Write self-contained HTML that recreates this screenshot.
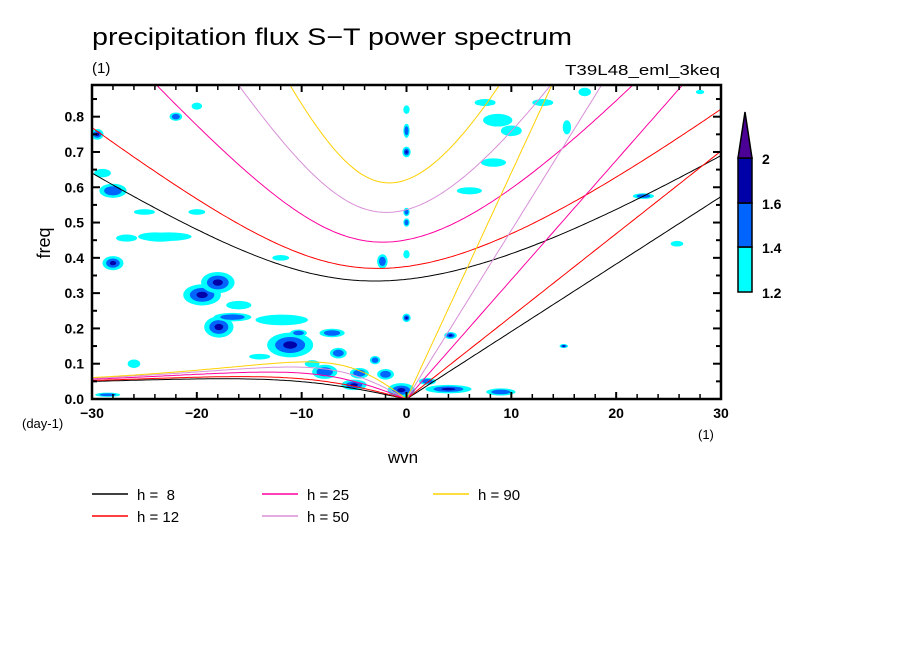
<!DOCTYPE html>
<html><head><meta charset="utf-8"><style>
html,body{margin:0;padding:0;background:#fff;}
svg{display:block;font-family:"Liberation Sans",sans-serif;}
.pre{white-space:pre;}
</style></head><body>
<svg id="chart" width="904" height="654" viewBox="0 0 904 654">
<rect width="904" height="654" fill="#fff"/>
<g id="blobs"></g>
<g id="curves"></g>
<g id="axes"></g>
<text x="92" y="45" font-size="24" textLength="480" lengthAdjust="spacingAndGlyphs">precipitation flux S−T power spectrum</text>
<text x="92" y="73" font-size="15">(1)</text>
<text x="720" y="75" font-size="15" text-anchor="end" textLength="155" lengthAdjust="spacingAndGlyphs">T39L48_eml_3keq</text>
<text x="50" y="243" font-size="18" transform="rotate(-90 50 243)" text-anchor="middle">freq</text>
<text x="403" y="463" font-size="17" text-anchor="middle">wvn</text>
<text x="22" y="428" font-size="13">(day-1)</text>
<text x="698" y="439" font-size="13">(1)</text>
<g id="legend"></g>
<g id="colorbar"></g>
</svg>
<script>
const NS="http://www.w3.org/2000/svg";
// data
const hValues=[8,12,25,50,90];
const hColors=["#000000","#ff0000","#ff00a0","#d890d8","#ffd000"];
const xTicks=[-30,-20,-10,0,10,20,30];
const yTicks=[0,0.1,0.2,0.3,0.4,0.5,0.6,0.7,0.8];
const yTickLabels=["0.0","0.1","0.2","0.3","0.4","0.5","0.6","0.7","0.8"];
const cbLevels=[1.2,1.4,1.6,2];
const cbColors=["#00ffff","#0064ff","#0000a8","#4b0096"];
// blobs: wavenumber, frequency, half-width (wvn), half-height (freq), level
const blobK=[-11.1,-19.5,-18,-17.9,-28,-0.5,-2,-7.8,-4.5,-6.5,-11.9,-16.6,-16,-7.1,-10.3,-24,-22.7,-2.3,0,4,-29.5,-28,-26.7,-23.5,-22,-20,-29,0,0,0,0,0,0,8.7,7.5,8.3,15.3,17,13,4.2,15,22.6,25.8,-28.5,-26,-14,-12,-20,-25,-3,-9,-5,9,2,28,10,6];
const blobF=[0.153,0.295,0.33,0.204,0.385,0.025,0.07,0.077,0.073,0.13,0.224,0.232,0.266,0.187,0.187,0.46,0.46,0.39,0.23,0.028,0.75,0.59,0.456,0.456,0.8,0.83,0.64,0.82,0.76,0.7,0.53,0.5,0.41,0.79,0.84,0.67,0.77,0.87,0.84,0.18,0.15,0.575,0.44,0.012,0.1,0.12,0.4,0.53,0.53,0.11,0.1,0.04,0.02,0.05,0.87,0.76,0.59];
const blobRK=[2.2,1.8,1.6,1.4,1.0,1.3,0.8,1.2,0.9,0.8,2.5,1.8,1.2,1.2,0.8,1.6,2.2,0.5,0.4,2.2,0.6,1.3,1.0,1.6,0.6,0.5,0.8,0.3,0.3,0.4,0.3,0.3,0.3,1.4,1.0,1.2,0.4,0.6,1.0,0.6,0.4,1.0,0.6,1.2,0.6,1.0,0.8,0.8,1.0,0.5,0.7,1.2,1.4,0.8,0.4,1.0,1.2];
const blobRF=[0.035,0.03,0.03,0.03,0.02,0.02,0.015,0.02,0.015,0.015,0.015,0.012,0.012,0.012,0.01,0.012,0.012,0.02,0.012,0.012,0.015,0.02,0.01,0.01,0.012,0.01,0.012,0.012,0.02,0.015,0.012,0.012,0.012,0.018,0.01,0.012,0.02,0.012,0.01,0.01,0.006,0.008,0.008,0.006,0.012,0.008,0.008,0.008,0.008,0.012,0.01,0.015,0.01,0.01,0.006,0.015,0.01];
const blobLvl=[3,3,3,3,3,3,2,2,2,2,1,2,1,2,2,1,1,2,3,3,3,2,1,1,2,1,1,1,2,3,2,2,1,1,1,1,1,1,1,3,3,2,1,2,1,1,1,1,1,2,1,3,2,2,1,1,1];

const X0=92,X1=721,Y0=399,YT=85,PPF=352.9;
const xs=k=>X0+(k+30)/60*(X1-X0);
const ys=f=>Y0-f*PPF;

const bg=document.getElementById('blobs');
const lvlCol=["#00ffff","#0064ff","#0000a8"];
for(let i=0;i<blobK.length;i++){
  for(let l=0;l<blobLvl[i];l++){
    const e=document.createElementNS(NS,'ellipse');
    const s=1-l*0.35;
    e.setAttribute('cx',xs(blobK[i]));e.setAttribute('cy',ys(blobF[i]));
    e.setAttribute('rx',blobRK[i]*10.48*s);e.setAttribute('ry',blobRF[i]*PPF*s);
    e.setAttribute('fill',lvlCol[l]);
    
    
    bg.appendChild(e);
  }
}

// dispersion curves
const beta=2.29e-11,a=6.371e6,g=9.81,toCpd=86400/(2*Math.PI);
function cubic(w,k,c){return w*w*w-(c*c*k*k+3*beta*c)*w-beta*c*c*k;}
function dcubic(w,k,c){return 3*w*w-(c*c*k*k+3*beta*c);}
function solve(w,k,c){for(let i=0;i<40;i++){w-=cubic(w,k,c)/dcubic(w,k,c);}return w;}
const cg=document.getElementById('curves');
const clip=document.createElementNS(NS,'clipPath');clip.setAttribute('id','pc');
const cr=document.createElementNS(NS,'rect');cr.setAttribute('x',X0);cr.setAttribute('y',YT);cr.setAttribute('width',X1-X0);cr.setAttribute('height',Y0-YT);
clip.appendChild(cr);cg.appendChild(clip);
cg.setAttribute('clip-path','url(#pc)');
function addPath(pts,col,name){
  const p=document.createElementNS(NS,'polyline');
  p.setAttribute('points',pts.map(q=>q[0].toFixed(1)+','+q[1].toFixed(1)).join(' '));
  p.setAttribute('fill','none');p.setAttribute('stroke',col);p.setAttribute('stroke-width','1');
  
  
  cg.appendChild(p);
}
hValues.forEach((h,j)=>{
  const c=Math.sqrt(g*h);const col=hColors[j];
  const ig=[],ro=[],kel=[];
  for(let s=-30;s<=30.001;s+=0.25){
    const k=s/a;
    const w0=Math.sqrt(c*c*k*k+3*beta*c);
    ig.push([xs(s),ys(solve(w0,k,c)*toCpd)]);
    if(s<=0){const wr=-beta*k/(k*k+3*beta/c);ro.push([xs(s),ys(s===0?0:solve(wr,k,c)*toCpd)]);}
    if(s>=0){kel.push([xs(s),ys(c*k*toCpd)]);}
  }
  addPath(ig,col,'ig-curve-h'+h);addPath(ro,col,'rossby-curve-h'+h);addPath(kel,col,'kelvin-line-h'+h);
});

// axes
const ag=document.getElementById('axes');
function el(tag,attrs,name,txt){const e=document.createElementNS(NS,tag);for(const k in attrs)e.setAttribute(k,attrs[k]);
  
  
  if(txt!==undefined)e.textContent=txt;ag.appendChild(e);return e;}
el('rect',{x:X0,y:YT,width:X1-X0,height:Y0-YT,fill:'none',stroke:'#000','stroke-width':2.5},'plot-frame');
for(let s=-30;s<=30;s+=2){const maj=s%10===0;const L=maj?7:5;
  el('line',{x1:xs(s),x2:xs(s),y1:Y0,y2:Y0-L,stroke:'#000','stroke-width':maj?2:1.5},'x-tick');
  el('line',{x1:xs(s),x2:xs(s),y1:YT,y2:YT+L,stroke:'#000','stroke-width':maj?2:1.5},'x-tick-top');}
for(let i=0;i<=17;i++){const f=i*0.05;const maj=i%2===0;const L=maj?8:5;
  el('line',{x1:X0,x2:X0+L,y1:ys(f),y2:ys(f),stroke:'#000','stroke-width':2},'y-tick');
  el('line',{x1:X1,x2:X1-L,y1:ys(f),y2:ys(f),stroke:'#000','stroke-width':2},'y-tick-right');}
xTicks.forEach(t=>el('text',{x:xs(t),y:Y0+19,'font-size':14,'font-weight':'bold','text-anchor':'middle'},'x-tick-label',(t<0?'−':'')+Math.abs(t)));
yTicks.forEach((t,i)=>el('text',{x:X0-8,y:ys(t)+5,'font-size':14,'font-weight':'bold','text-anchor':'end'},'y-tick-label',yTickLabels[i]));

// legend
const lg=document.getElementById('legend');
const legPos=[[92,137,494],[92,137,516],[262,307,494],[262,307,516],[433,478,494]];
hValues.forEach((h,j)=>{
  const p=legPos[j];
  const ln=document.createElementNS(NS,'line');
  ln.setAttribute('x1',p[0]);ln.setAttribute('x2',p[0]+36);ln.setAttribute('y1',p[2]);ln.setAttribute('y2',p[2]);
  ln.setAttribute('stroke',hColors[j]);ln.setAttribute('stroke-width',1.5);
  
  
  lg.appendChild(ln);
  const t=document.createElementNS(NS,'text');
  t.setAttribute('x',p[1]);t.setAttribute('y',p[2]+6);t.setAttribute('font-size',15);t.setAttribute('class','pre');
  t.textContent='h = '+(h<10?' ':'')+h;
  
  
  lg.appendChild(t);
});

// colorbar
const cb=document.getElementById('colorbar');
const cbY=[292,247,203,158];
for(let i=0;i<3;i++){
  const r=document.createElementNS(NS,'rect');
  r.setAttribute('x',738);r.setAttribute('y',cbY[i+1]);r.setAttribute('width',14);r.setAttribute('height',cbY[i]-cbY[i+1]);
  r.setAttribute('fill',cbColors[i]);r.setAttribute('stroke','#000');r.setAttribute('stroke-width',1.5);
  
  
  cb.appendChild(r);
}
const tri=document.createElementNS(NS,'polygon');
tri.setAttribute('points','738,158 752,158 745,112');tri.setAttribute('fill',cbColors[3]);tri.setAttribute('stroke','#000');tri.setAttribute('stroke-width',1.5);


cb.appendChild(tri);
cbLevels.forEach((v,i)=>{
  const t=document.createElementNS(NS,'text');
  t.setAttribute('x',762);t.setAttribute('y',cbY[i]+6);t.setAttribute('font-size',14);t.setAttribute('font-weight','bold');
  t.textContent=String(v);
  
  
  cb.appendChild(t);
});
</script>
</body></html>
